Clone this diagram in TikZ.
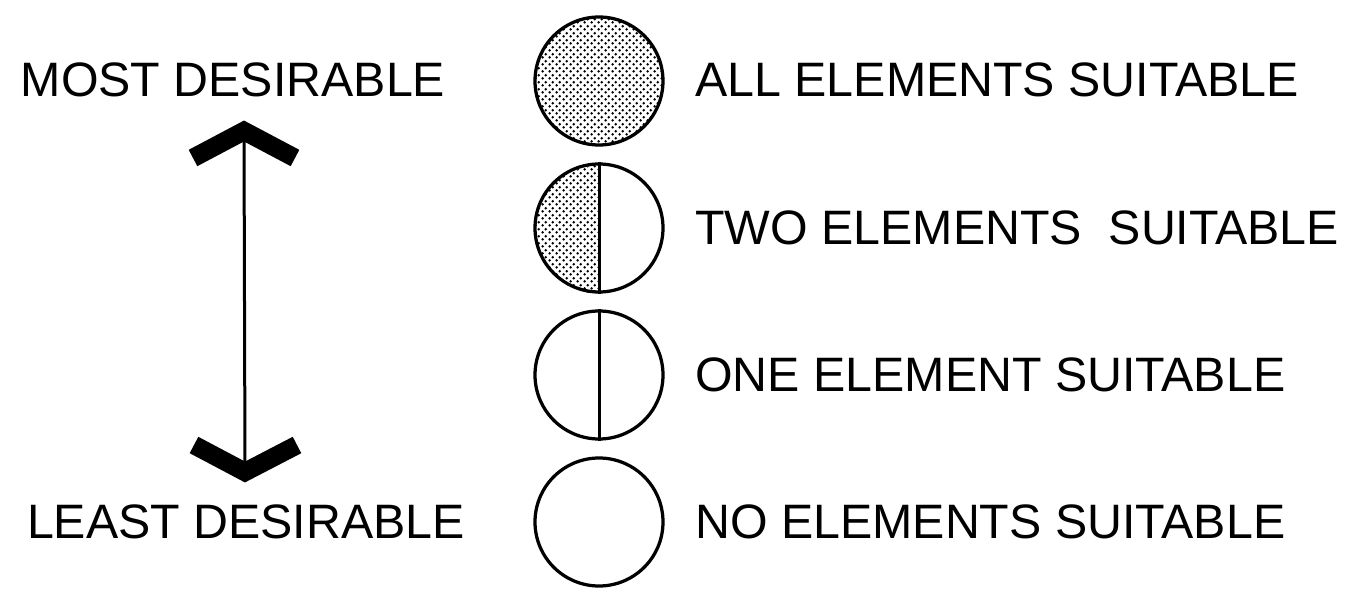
\documentclass[tikz,border=0pt]{standalone}
\usepackage{fontspec}
\setmainfont{Liberation Sans}
\usetikzlibrary{patterns}

\pgfdeclarepatternformonly{halftone}{\pgfqpoint{0pt}{0pt}}{\pgfqpoint{3.8pt}{3.8pt}}{\pgfqpoint{3.8pt}{3.8pt}}{%
  \pgfpathcircle{\pgfqpoint{0.95pt}{0.95pt}}{0.8pt}%
  \pgfpathcircle{\pgfqpoint{2.85pt}{2.85pt}}{0.8pt}%
  \pgfusepath{fill}}

\begin{document}
\begin{tikzpicture}[
    x=1cm, y=1cm, font=\fontsize{27.5}{33}\selectfont,
    ring/.style={circle, draw, line width=0.065cm, minimum size=2.56cm,
                 inner sep=0pt},
    dotfill/.style={pattern=halftone},
    chev/.style={line width=0.37cm, line join=miter, line cap=butt},
    axisline/.style={line width=0.06cm},
    lbl/.style={anchor=base west, inner sep=0pt},
    side/.style={anchor=base, inner sep=0pt},
]
\useasboundingbox (0,0) rectangle (26.92,11.80);

% ===================== Escala (izquierda) =====================
\node[side] (most)  at (4.66,9.86) {MOST DESIRABLE};
\node[side] (least) at (4.92,1.02) {LEAST DESIRABLE};

\coordinate (tip)  at (4.88,9.18);
\coordinate (base) at (4.90,2.36);
\draw[axisline] (tip) -- (base);
\draw[chev] (3.86,8.64) -- (tip) -- (5.90,8.64);
\draw[chev] (3.88,2.90) -- (base) -- (5.94,2.90);

% ===================== Simbolos =====================
\node[ring, dotfill] (all) at (11.98,10.18) {};

\node[ring] (two) at (11.98,7.24) {};
\fill[dotfill] (two.south) arc[start angle=270, end angle=90, radius=1.28cm] -- cycle;
\draw[axisline] (two.north) -- (two.south);

\node[ring] (one) at (11.98,4.30) {};
\draw[axisline] (one.north) -- (one.south);

\node[ring] (none) at (11.98,1.36) {};

% ===================== Textos (derecha) =====================
\node[lbl] (allLbl)  at (13.90,9.86) {ALL ELEMENTS SUITABLE};
\node[lbl] (twoLbl)  at (13.90,6.90) {TWO ELEMENTS\ \ SUITABLE};
\node[lbl] (oneLbl)  at (13.90,3.96) {ONE ELEMENT SUITABLE};
\node[lbl] (noneLbl) at (13.90,1.02) {NO ELEMENTS SUITABLE};

\end{tikzpicture}
\end{document}
